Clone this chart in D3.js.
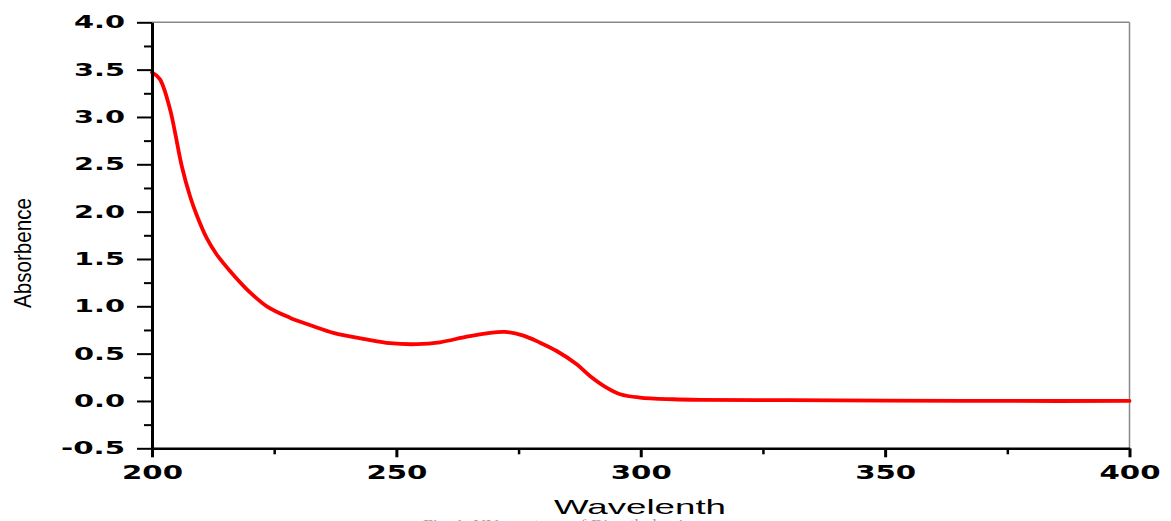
<!DOCTYPE html>
<html><head><meta charset="utf-8">
<script src="https://cdn.jsdelivr.net/npm/d3@7"></script>
<style>body{margin:0;background:#fff;overflow:hidden}</style>
</head><body>
<svg id="c" width="1171" height="521"></svg>
<script>
const wavelength = [200, 201.6, 203.7, 204.7, 206.1, 207.8, 209.1, 211.2, 213.2, 216.0, 219.4, 223.5, 228.2, 233.0, 237.1, 243.9, 248.7, 254.2, 258.9, 264.4, 268.5, 272.2, 276.0, 279.4, 282.8, 286.9, 289.6, 293.0, 295.8, 299.8, 306.6, 312.1, 330, 350, 375, 400];
const absorbance = [3.47, 3.40, 3.08, 2.84, 2.48, 2.16, 1.97, 1.72, 1.55, 1.37, 1.18, 1.00, 0.88, 0.79, 0.72, 0.65, 0.61, 0.60, 0.62, 0.68, 0.715, 0.73, 0.69, 0.616, 0.528, 0.388, 0.264, 0.141, 0.071, 0.036, 0.018, 0.012, 0.008, 0.004, 0.0, 0.0];
const yMajorTicks = [-0.5, 0, 0.5, 1.0, 1.5, 2.0, 2.5, 3.0, 3.5, 4.0];
const yMinorTicks = [-0.25, 0.25, 0.75, 1.25, 1.75, 2.25, 2.75, 3.25, 3.75];
const xMajorTicks = [200, 250, 300, 350, 400];
const xMinorTicks = [225, 275, 325, 375];
const xTitle = "Wavelenth";
const yTitle = "Absorbence";
const caption = "Fig. 1: UV spectrum of Dimethylamine";

const svg = d3.select("#c");
const L = 152, R = 1129.5, T = 22.3, B = 448.3;
const x = d3.scaleLinear().domain([200, 400]).range([L, R]);
const y = d3.scaleLinear().domain([-0.5, 4.0]).range([B, T]);

// frame top/right
svg.append("line").attr("x1", L).attr("x2", R).attr("y1", T).attr("y2", T).attr("stroke", "#888").attr("stroke-width", 1.5);
svg.append("line").attr("x1", R).attr("x2", R).attr("y1", T).attr("y2", B).attr("stroke", "#888").attr("stroke-width", 1.5);

// curve
const line = d3.line().x((d, i) => x(wavelength[i])).y((d, i) => y(absorbance[i])).curve(d3.curveCatmullRom.alpha(0.5));
svg.append("path").datum(absorbance).attr("d", line).attr("fill", "none").attr("stroke", "#ff0000").attr("stroke-width", 3.8).attr("stroke-linejoin", "round").attr("stroke-linecap", "round");

const fmtY = d => d3.format(".1f")(d).replace("\u2212", "-");

// y axis
const gyMinor = svg.append("g").attr("transform", `translate(${L},0)`)
  .call(d3.axisLeft(y).tickValues(yMinorTicks).tickSize(8).tickSizeOuter(0).tickFormat(""));
gyMinor.select(".domain").remove();
gyMinor.selectAll("line").attr("stroke", "#000").attr("stroke-width", 2);
const gy = svg.append("g").attr("transform", `translate(${L},0)`)
  .call(d3.axisLeft(y).tickValues(yMajorTicks).tickSize(15).tickSizeOuter(0).tickPadding(12).tickFormat(fmtY));
gy.select(".domain").attr("stroke", "#000").attr("stroke-width", 3);
gy.selectAll("line").attr("stroke", "#000").attr("stroke-width", 2);
gy.selectAll("text").attr("font-family", "DejaVu Sans").attr("font-weight", "bold").attr("font-size", 17.5).attr("fill", "#000")
  .attr("textLength", d => d < 0 ? 64 : 51).attr("lengthAdjust", "spacingAndGlyphs");

// x axis
const gxMinor = svg.append("g").attr("transform", `translate(0,${B})`)
  .call(d3.axisBottom(x).tickValues(xMinorTicks).tickSize(6).tickSizeOuter(0).tickFormat(""));
gxMinor.select(".domain").remove();
gxMinor.selectAll("line").attr("stroke", "#000").attr("stroke-width", 2.5);
const gx = svg.append("g").attr("transform", `translate(0,${B})`)
  .call(d3.axisBottom(x).tickValues(xMajorTicks).tickSize(9).tickSizeOuter(0).tickPadding(8).tickFormat(d3.format("d")));
gx.select(".domain").attr("stroke", "#000").attr("stroke-width", 2.5);
gx.selectAll("line").attr("stroke", "#000").attr("stroke-width", 3);
gx.selectAll("text").attr("font-family", "DejaVu Sans").attr("font-weight", "bold").attr("font-size", 19.5).attr("fill", "#000")
  .attr("textLength", 61).attr("lengthAdjust", "spacingAndGlyphs");

// titles
svg.append("text").attr("x", 640).attr("y", 514).attr("text-anchor", "middle")
  .attr("font-family", "Liberation Sans, Arial, sans-serif").attr("font-size", 21).attr("fill", "#000")
  .attr("textLength", 172).attr("lengthAdjust", "spacingAndGlyphs").text(xTitle);
svg.append("text").attr("transform", "translate(31,253) rotate(-90)").attr("text-anchor", "middle")
  .attr("font-family", "Liberation Sans Narrow, Liberation Sans, sans-serif").attr("font-size", 24).attr("fill", "#000")
  .attr("textLength", 110).attr("lengthAdjust", "spacingAndGlyphs").text(yTitle);
svg.append("text").attr("x", 423).attr("y", 528)
  .attr("font-family", "Liberation Serif, serif").attr("font-size", 13).attr("fill", "#999")
  .attr("textLength", 277).attr("lengthAdjust", "spacingAndGlyphs").text(caption);
</script>
</body></html>
